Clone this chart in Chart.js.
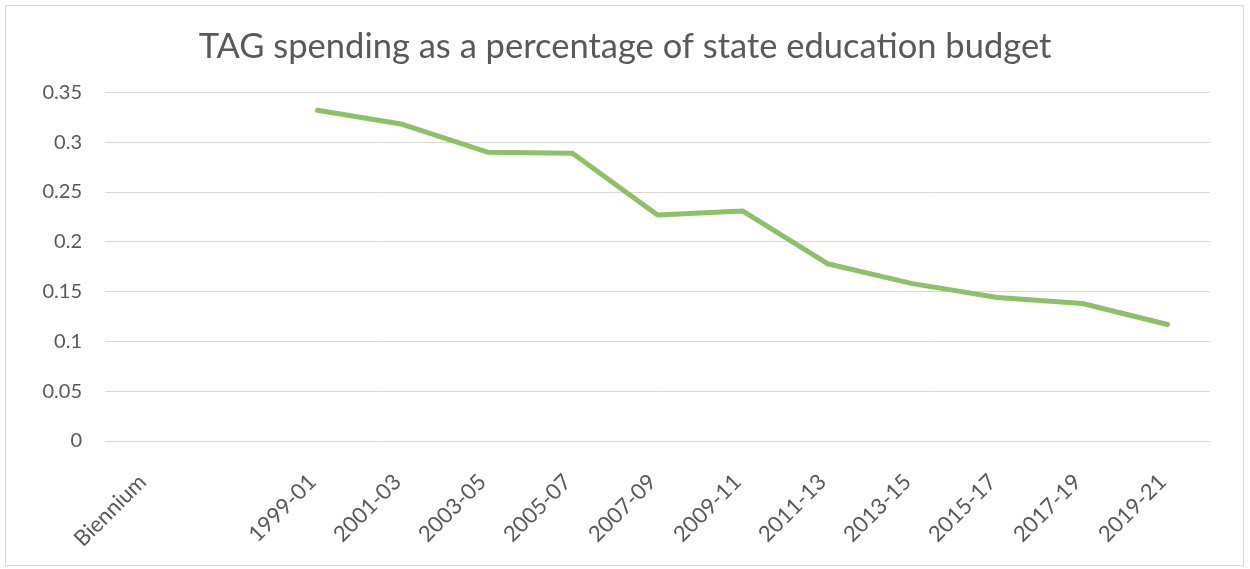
<!DOCTYPE html>
<html>
<head>
<meta charset="utf-8">
<script src="https://cdn.jsdelivr.net/npm/chart.js@4/dist/chart.umd.min.js"></script>
<style>
  body { margin: 0; background: #fff; }
  #wrap { position: absolute; left: 0; top: 0; width: 1250px; height: 569px; }
  #frame { position: absolute; left: 5px; top: 5px; width: 1237px; height: 559px; border: 1px solid #d9d9d9; pointer-events: none; }
</style>
</head>
<body>
<div id="wrap">
  <canvas id="myChart" width="1250" height="569"></canvas>
  <div id="frame"></div>
</div>
<script>
var bienniums = ['Biennium', '', '1999-01', '2001-03', '2003-05', '2005-07', '2007-09',
    '2009-11', '2011-13', '2013-15', '2015-17', '2017-19', '2019-21'];
var tagShare = [null, null, 0.332, 0.318, 0.290, 0.289, 0.227,
    0.231, 0.178, 0.158, 0.144, 0.138, 0.117];
var yTicks = [0, 0.05, 0.1, 0.15, 0.2, 0.25, 0.3, 0.35];

var fontFamily = 'Lato, "Open Sans", sans-serif';

var ctx = document.getElementById('myChart').getContext('2d');
var myChart = new Chart(ctx, {
    type: 'line',
    data: {
        labels: bienniums,
        datasets: [{
            label: 'TAG share',
            data: tagShare,
            borderColor: '#8cc168',
            borderWidth: 5,
            borderCapStyle: 'round',
            borderJoinStyle: 'round',
            pointRadius: 0,
            tension: 0
        }]
    },
    options: {
        responsive: false,
        animation: false,
        layout: {
            padding: { left: 40, right: 40, top: 0, bottom: 10 }
        },
        plugins: {
            legend: { display: false },
            tooltip: { enabled: false },
            title: {
                display: true,
                text: 'TAG spending as a percentage of state education budget',
                color: '#595959',
                font: { family: fontFamily, size: 34.5, weight: 'normal' },
                padding: { top: 26, bottom: 25 }
            }
        },
        scales: {
            y: {
                min: 0,
                max: 0.35,
                afterBuildTicks: function (axis) {
                    axis.ticks = yTicks.map(function (v) { return { value: v }; });
                },
                afterFit: function (axis) { axis.width = 65; },
                border: { display: false },
                grid: { color: '#d9d9d9', lineWidth: 1, drawTicks: false },
                ticks: {
                    color: '#595959',
                    padding: 23,
                    font: { family: fontFamily, size: 20 },
                    callback: function (v) { return String(Number(v.toFixed(2))); }
                }
            },
            x: {
                offset: true,
                afterFit: function (axis) { axis.height = 118; },
                border: { display: false },
                grid: { display: false, drawTicks: false },
                ticks: {
                    color: '#595959',
                    padding: 28,
                    labelOffset: -5,
                    minRotation: 45,
                    maxRotation: 45,
                    autoSkip: false,
                    font: { family: fontFamily, size: 22 }
                }
            }
        }
    }
});
</script>
</body>
</html>
